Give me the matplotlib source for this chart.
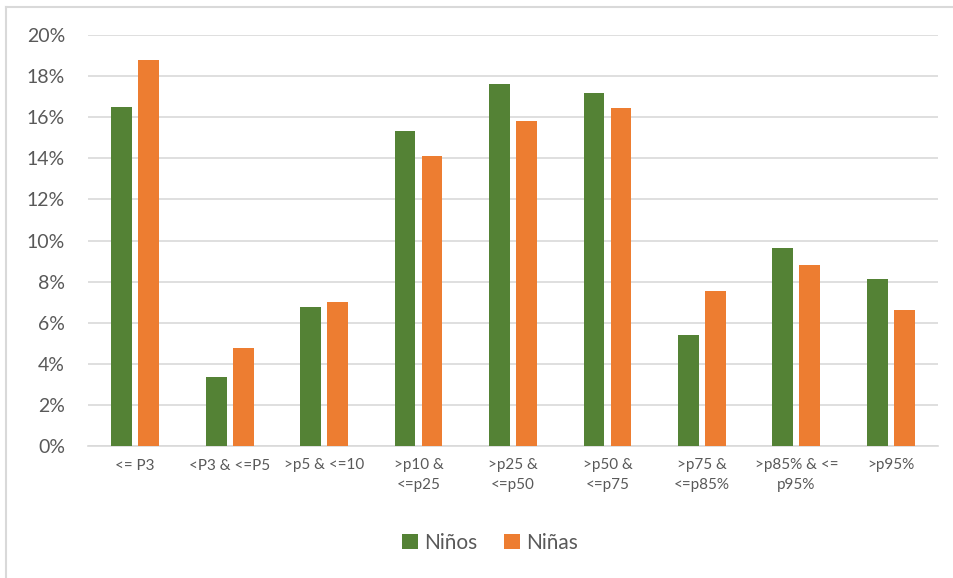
import matplotlib
matplotlib.use("Agg")
import matplotlib.pyplot as plt
from matplotlib.lines import Line2D
import numpy as np

categories = ["<= P3", "<P3 & <=P5", ">p5 & <=10", ">p10 &\n<=p25", ">p25 &\n<=p50",
              ">p50 &\n<=p75", ">p75 &\n<=p85%", ">p85% & <=\np95%", ">p95%"]
ninos = [16.5, 3.37, 6.77, 15.32, 17.6, 17.2, 5.42, 9.63, 8.12]
ninas = [18.78, 4.78, 7.0, 14.1, 15.82, 16.47, 7.52, 8.8, 6.62]
yticks = [0, 2, 4, 6, 8, 10, 12, 14, 16, 18, 20]

plt.rcParams['font.family'] = ['Lato', 'DejaVu Sans']
W, H = 954, 578
fig = plt.figure(figsize=(W/100, H/100), dpi=100)
ax = fig.add_axes([88/W, 1-446/H, (938-88)/W, (446-35)/H])

x = np.arange(len(categories))
bw = 0.22
gap = 0.065
green = "#548235"
orange = "#ED7D31"
ax.bar(x - (bw+gap)/2, ninos, bw, color=green, label="Niños", zorder=3)
ax.bar(x + (bw+gap)/2, ninas, bw, color=orange, label="Niñas", zorder=3)

ax.set_xlim(-0.5, len(categories)-0.5)
ax.set_ylim(0, 20)
ax.set_yticks(yticks)
ax.set_yticklabels([f"{v}%" for v in yticks])
ax.yaxis.grid(True, color="#D9D9D9", linewidth=1.2, zorder=0)
for s in ["top", "right", "left"]:
    ax.spines[s].set_visible(False)
ax.spines["bottom"].set_color("#D9D9D9")
ax.spines["bottom"].set_linewidth(1.2)
ax.tick_params(axis="y", length=0, labelsize=14, labelcolor="#595959", pad=16.5)
ax.tick_params(axis="x", length=0, labelsize=11, labelcolor="#595959", pad=9)
ax.set_xticks(x)
ax.set_xticklabels(categories, linespacing=1.5, va="top")

leg = fig.legend(loc="center", bbox_to_anchor=(490/W, 1-543/H), ncol=2, frameon=False,
                 fontsize=15, handlelength=0.75, handleheight=0.75, handletextpad=0.3,
                 columnspacing=1.3, labelcolor="#595959")

fig.add_artist(Line2D([6.5/W, 6.5/W], [0, 1-6.5/H], color="#D9D9D9", linewidth=1.5))
fig.add_artist(Line2D([6.5/W, 1], [1-6.5/H, 1-6.5/H], color="#D9D9D9", linewidth=1.5))

fig.savefig("out.png", dpi=100)
